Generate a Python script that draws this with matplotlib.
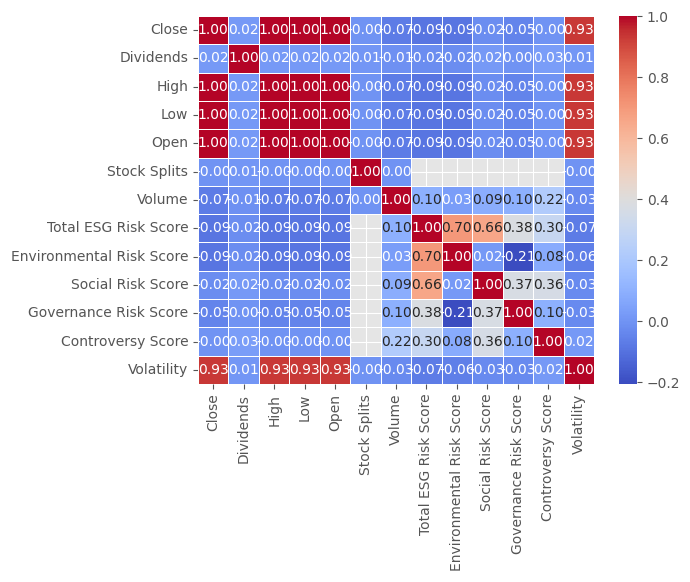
import matplotlib
matplotlib.use("Agg")
import matplotlib.pyplot as plt
import numpy as np
import pandas as pd
import seaborn as sns

plt.style.use("ggplot")

labels = ["Close", "Dividends", "High", "Low", "Open", "Stock Splits", "Volume",
          "Total ESG Risk Score", "Environmental Risk Score", "Social Risk Score",
          "Governance Risk Score", "Controversy Score", "Volatility"]

nan = np.nan
price = [1.00, 0.02, 1.00, 1.00, 1.00, -0.001, -0.07, -0.09, -0.09, -0.02, -0.05, -0.001, 0.93]
dividends = [0.02, 1.00, 0.02, 0.02, 0.02, 0.01, -0.01, -0.02, -0.02, 0.02, 0.00, 0.03, 0.01]
stock_splits = [-0.001, 0.01, -0.001, -0.001, -0.001, 1.00, 0.001, nan, nan, nan, nan, nan, -0.001]
volume = [-0.07, -0.01, -0.07, -0.07, -0.07, 0.001, 1.00, 0.10, 0.03, 0.09, 0.10, 0.22, -0.03]
total_esg = [-0.09, -0.02, -0.09, -0.09, -0.09, nan, 0.10, 1.00, 0.70, 0.66, 0.38, 0.30, -0.07]
env_risk = [-0.09, -0.02, -0.09, -0.09, -0.09, nan, 0.03, 0.70, 1.00, 0.02, -0.206, 0.08, -0.06]
social_risk = [-0.02, 0.02, -0.02, -0.02, -0.02, nan, 0.09, 0.66, 0.02, 1.00, 0.37, 0.36, -0.03]
gov_risk = [-0.05, 0.00, -0.05, -0.05, -0.05, nan, 0.10, 0.38, -0.206, 0.37, 1.00, 0.10, -0.03]
controversy = [-0.001, 0.03, -0.001, -0.001, -0.001, nan, 0.22, 0.30, 0.08, 0.36, 0.10, 1.00, 0.02]
volatility = [0.93, 0.01, 0.93, 0.93, 0.93, -0.001, -0.03, -0.07, -0.06, -0.03, -0.03, 0.02, 1.00]

rows = [price, dividends, price, price, price, stock_splits, volume, total_esg,
        env_risk, social_risk, gov_risk, controversy, volatility]
corr = pd.DataFrame(rows, index=labels, columns=labels)

fig = plt.figure(figsize=(6.9, 5.82), dpi=100)
W, H = 690, 582
ax = fig.add_axes([198 / W, (H - 384) / H, (594 - 198) / W, (384 - 16) / H])
cax = fig.add_axes([619 / W, (H - 384) / H, (637 - 619) / W, (384 - 16) / H])

sns.heatmap(corr, annot=True, fmt=".2f", cmap="coolwarm", linewidths=0.5,
            ax=ax, cbar_ax=cax)

fig.savefig("out.png", dpi=100)
